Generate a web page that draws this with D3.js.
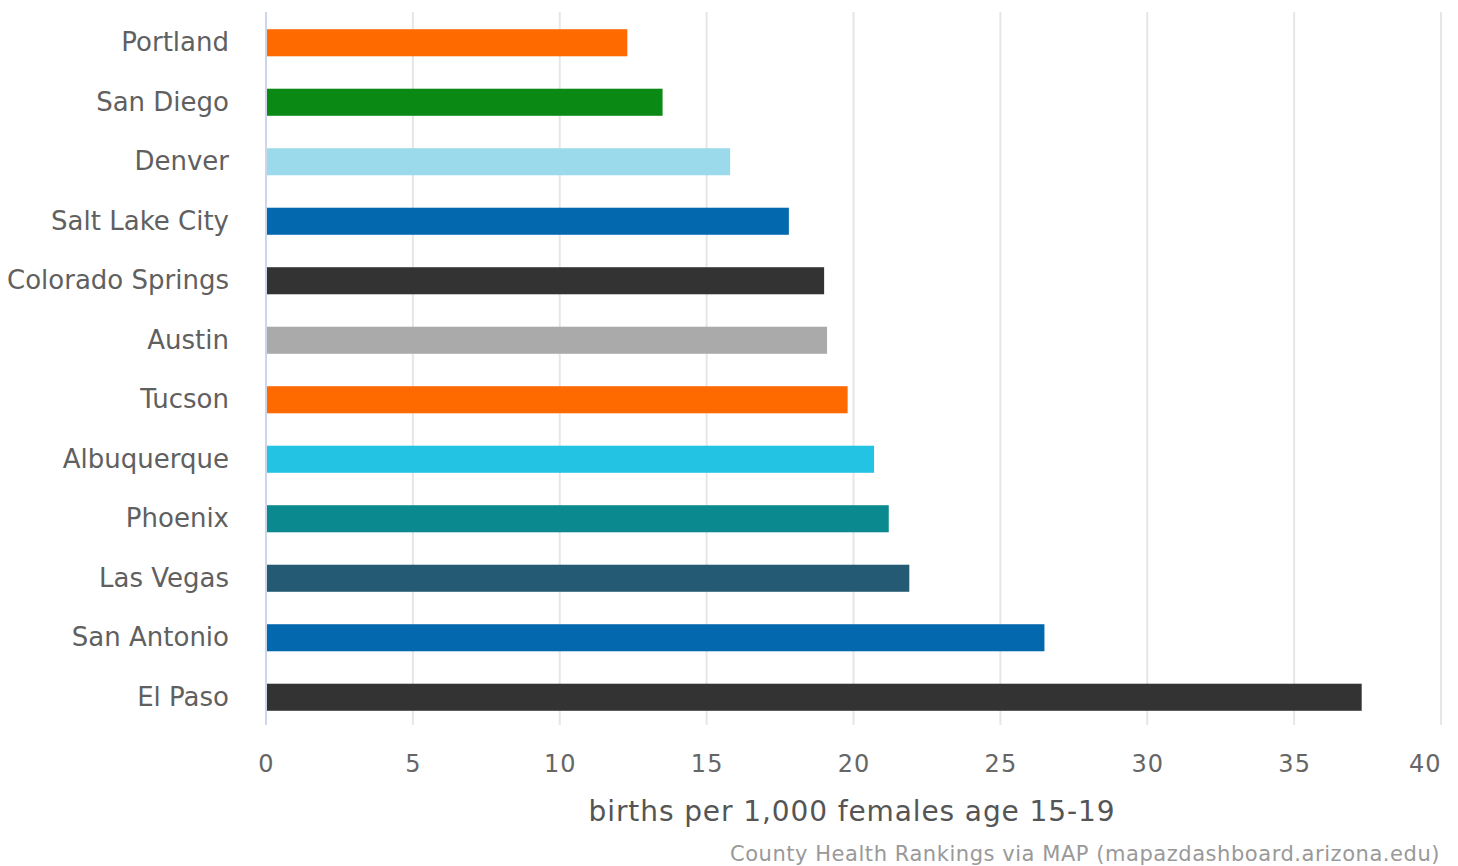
<!DOCTYPE html>
<html>
<head>
<meta charset="utf-8">
<script src="https://cdn.jsdelivr.net/npm/d3@7"></script>
<style>
  html, body { margin: 0; padding: 0; background: #ffffff; }
  svg { display: block; font-family: "DejaVu Sans", sans-serif; }
</style>
</head>
<body>
<svg id="chart" width="1458" height="866"></svg>
<script>
// Teen birth rates by city
const cities = ["Portland", "San Diego", "Denver", "Salt Lake City", "Colorado Springs", "Austin",
                "Tucson", "Albuquerque", "Phoenix", "Las Vegas", "San Antonio", "El Paso"];
const rates = [12.3, 13.5, 15.8, 17.8, 19.0, 19.1, 19.8, 20.7, 21.2, 21.9, 26.5, 37.3];
const barColors = ["#ff6a00", "#0a8a14", "#9bdaeb", "#0468ae", "#333333", "#aaaaaa",
                   "#ff6a00", "#22c3e3", "#0a8a8f", "#245a73", "#0468ae", "#333333"];
const xTicks = [0, 5, 10, 15, 20, 25, 30, 35, 40];
const xTitle = "births per 1,000 females age 15-19";
const sourceNote = "County Health Rankings via MAP (mapazdashboard.arizona.edu)";

const svg = d3.select("#chart");
const plot = { left: 266, right: 1441, top: 12, bottom: 725 };

const x = d3.scaleLinear().domain([0, 40]).range([plot.left, plot.right]);
const pad = 0.545;
const y = d3.scaleBand().domain(cities).range([plot.top + 1, plot.bottom + 2])
  .paddingInner(pad).paddingOuter(pad / 2);

// vertical gridlines
svg.append("g")
  .selectAll("line")
  .data(xTicks.filter(d => d > 0))
  .join("line")
  .attr("x1", d => x(d)).attr("x2", d => x(d))
  .attr("y1", plot.top).attr("y2", plot.bottom)
  .attr("stroke", "#e6e6e6").attr("stroke-width", 2);

// bars
svg.append("g")
  .selectAll("rect")
  .data(cities)
  .join("rect")
  .attr("x", x(0))
  .attr("y", d => y(d))
  .attr("width", (d, i) => x(rates[i]) - x(0))
  .attr("height", y.bandwidth())
  .attr("fill", (d, i) => barColors[i]);

// category axis line
svg.append("line")
  .attr("x1", x(0)).attr("x2", x(0))
  .attr("y1", plot.top).attr("y2", plot.bottom)
  .attr("stroke", "#ccd6eb").attr("stroke-width", 2);

// category labels
const yAxis = d3.axisLeft(y).tickSize(0).tickPadding(37);
const gy = svg.append("g").attr("transform", `translate(${plot.left},0)`).call(yAxis);
gy.select(".domain").remove();
gy.selectAll("text")
  .attr("font-family", "DejaVu Sans, sans-serif")
  .attr("font-size", 26)
  .attr("fill", "#606060");

// value axis labels; the last one is kept inside the plot edge
const xAxis = d3.axisBottom(x).tickValues(xTicks).tickSize(0).tickPadding(0).tickFormat(d3.format("d"));
const gx = svg.append("g").attr("transform", `translate(0,${plot.bottom})`).call(xAxis);
gx.select(".domain").remove();
gx.selectAll("text")
  .attr("font-family", "DejaVu Sans, sans-serif")
  .attr("font-size", 24)
  .attr("letter-spacing", 1)
  .attr("fill", "#666666")
  .attr("dy", null)
  .attr("y", 47);
gx.selectAll(".tick").filter(d => d === 40).select("text")
  .attr("text-anchor", "end")
  .attr("x", 0);

// axis title
svg.append("text")
  .attr("x", 852)
  .attr("y", 821)
  .attr("text-anchor", "middle")
  .attr("font-size", 28)
  .attr("letter-spacing", 0.9)
  .attr("fill", "#555555")
  .text(xTitle);

// source note
svg.append("text")
  .attr("x", 1440)
  .attr("y", 861)
  .attr("text-anchor", "end")
  .attr("font-size", 21)
  .attr("letter-spacing", 0.55)
  .attr("fill", "#999999")
  .text(sourceNote);
</script>
</body>
</html>
